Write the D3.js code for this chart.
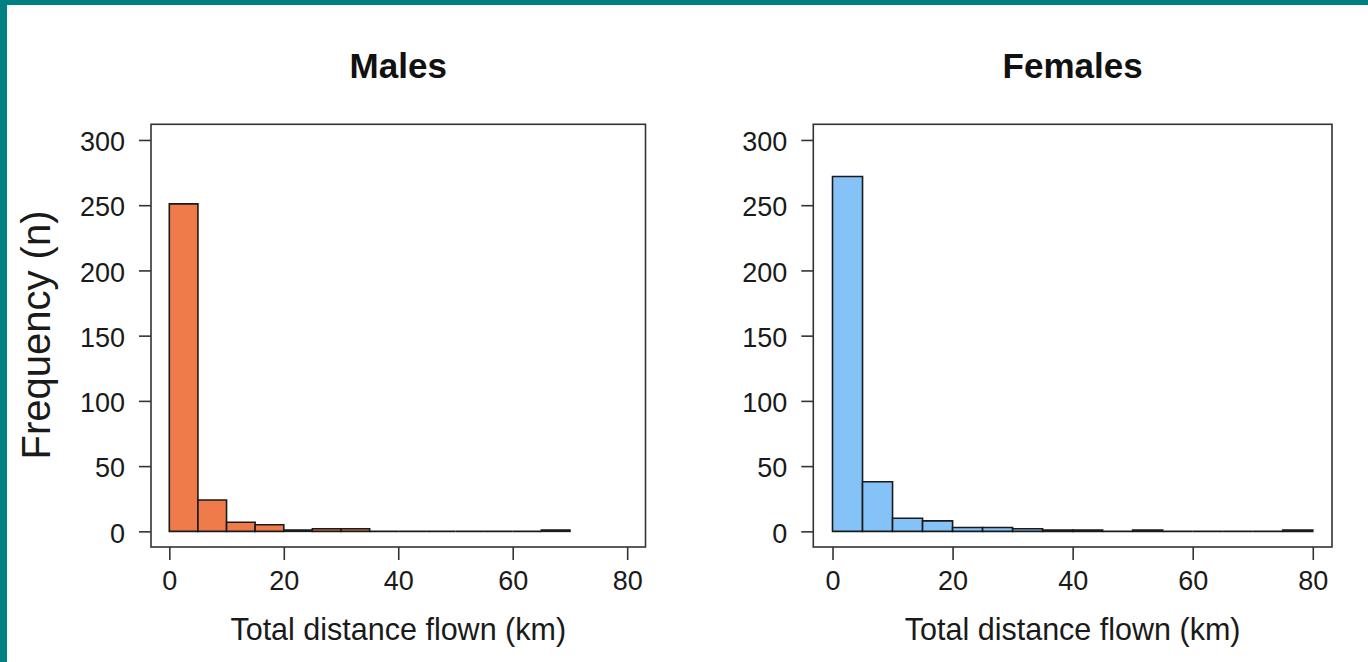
<!DOCTYPE html>
<html>
<head>
<meta charset="utf-8">
<script src="https://cdn.jsdelivr.net/npm/d3@7"></script>
<style>
  html, body { margin: 0; padding: 0; background: #fff; }
  svg { display: block; font-family: "Liberation Sans", Arial, sans-serif; }
</style>
</head>
<body>
<svg id="chart"></svg>
<script>
// bin width 5 km, counts
let binWidth = 5;
let maleCounts = [251, 24, 7, 5, 1, 2, 2, 0, 0, 0, 0, 0, 0, 1];
let femaleCounts = [272, 38, 10, 8, 3, 3, 2, 1, 1, 0, 1, 0, 0, 0, 0, 1];
let xTicks = [0, 20, 40, 60, 80];
let yTicks = [0, 50, 100, 150, 200, 250, 300];
let panelTitles = ['Males', 'Females'];

let width = 1368, height = 662;
let svg = d3.select('#chart').attr('width', width).attr('height', height);

// teal frame strips (top and left)
svg.append('rect').attr('x', 0).attr('y', 0).attr('width', width).attr('height', 5).attr('fill', '#008080');
svg.append('rect').attr('x', 0).attr('y', 0).attr('width', 7).attr('height', height).attr('fill', '#008080');

let panels = [
  { title: panelTitles[0], counts: maleCounts, color: '#EF7A4A', left: 151, right: 645.5 },
  { title: panelTitles[1], counts: femaleCounts, color: '#84C2F8', left: 813.3, right: 1332 },
];

let plotTop = 124.3, plotBottom = 547;

// y scale is shared (R extends range by 4%)
let y = d3.scaleLinear().domain([-12, 312]).range([plotBottom, plotTop]);

panels.forEach(p => {
  let x = d3.scaleLinear().domain([-3.2, 83.2]).range([p.left, p.right]);
  let g = svg.append('g');

  let bins = p.counts.map((c, i) => ({ x0: i * binWidth, x1: (i + 1) * binWidth, n: c }));

  // paths instead of rects so empty bins still show as a line on the baseline
  g.append('g')
    .selectAll('path')
    .data(bins)
    .enter()
    .append('path')
    .attr('d', d => {
      let x0 = x(d.x0), x1 = x(d.x1), y0 = y(0), y1 = y(d.n);
      return 'M' + x0 + ',' + y0 + 'V' + y1 + 'H' + x1 + 'V' + y0 + 'Z';
    })
    .attr('fill', p.color)
    .attr('stroke', '#1a1a1a')
    .attr('stroke-width', 1.6);

  // plot box
  g.append('rect')
    .attr('x', p.left)
    .attr('y', plotTop)
    .attr('width', p.right - p.left)
    .attr('height', plotBottom - plotTop)
    .attr('fill', 'none')
    .attr('stroke', '#333')
    .attr('stroke-width', 1.6);

  let yAxis = g.append('g')
    .attr('transform', 'translate(' + p.left + ',0)')
    .call(d3.axisLeft(y).tickValues(yTicks).tickSizeOuter(0).tickSize(12).tickPadding(14));

  let xAxis = g.append('g')
    .attr('transform', 'translate(0,' + plotBottom + ')')
    .call(d3.axisBottom(x).tickValues(xTicks).tickSizeOuter(0).tickSize(13).tickPadding(9));

  [yAxis, xAxis].forEach(a => {
    a.select('.domain').remove();
    a.selectAll('line').attr('stroke', '#333').attr('stroke-width', 1.6);
    a.selectAll('text')
      .attr('fill', '#1a1a1a')
      .style('font-size', '27px')
      .style('font-family', '"Liberation Sans", Arial, sans-serif');
  });
  yAxis.selectAll('text').attr('dy', '0.4em');
  xAxis.selectAll('text').attr('dy', '0.76em');

  let cx = (p.left + p.right) / 2;
  g.append('text')
    .attr('x', cx)
    .attr('y', 78)
    .attr('text-anchor', 'middle')
    .style('font-size', '35px')
    .style('font-weight', 'bold')
    .attr('fill', '#111')
    .text(p.title);

  g.append('text')
    .attr('x', cx)
    .attr('y', 640)
    .attr('text-anchor', 'middle')
    .style('font-size', '30.5px')
    .attr('fill', '#1a1a1a')
    .text('Total distance flown (km)');
});

svg.append('text')
  .attr('transform', 'translate(50,335) rotate(-90)')
  .attr('text-anchor', 'middle')
  .style('font-size', '40px')
  .attr('fill', '#1a1a1a')
  .text('Frequency (n)');
</script>
</body>
</html>
